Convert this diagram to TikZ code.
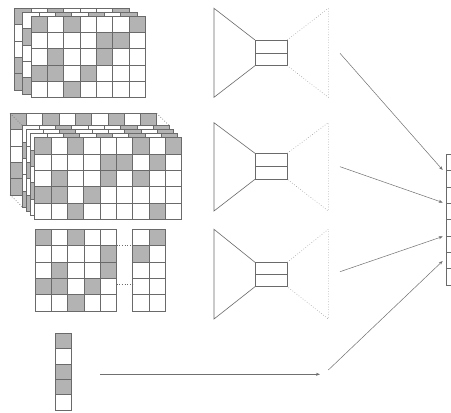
\documentclass[tikz,border=0pt]{standalone}
\usetikzlibrary{arrows.meta}
\definecolor{cellgray}{HTML}{B3B3B3}
\definecolor{linegray}{HTML}{6A6A6A}
\definecolor{dotgray}{HTML}{9A9A9A}
\definecolor{arrgray}{HTML}{707070}
\def\cw{16.3}
\tikzset{
  gridline/.style={draw=linegray, line width=0.6pt},
  bowline/.style={draw=linegray, line width=0.6pt},
  bowdot/.style={draw=dotgray, line width=0.6pt, dotted},
  stackdot/.style={draw=linegray, line width=0.7pt, dotted},
  conn/.style={draw=arrgray, line width=0.5pt, -{Stealth[length=4pt,width=3pt]}},
}
\newcommand\cellgrid[5]{%
  \fill[white] (#1,#2) rectangle ++({(#3+1)*\cw},{(#4+1)*\cw});
  \foreach \ci/\ri in {#5} {\fill[cellgray] ({#1+\ci*\cw},{#2+\ri*\cw}) rectangle ++(\cw,\cw);}
  \foreach \ci in {0,...,#3} {\foreach \ri in {0,...,#4} {\draw[gridline] ({#1+\ci*\cw},{#2+\ri*\cw}) rectangle ++(\cw,\cw);}}
}
\newcommand\mybowtie[6]{%
  \coordinate (#1-lt) at (214,#2); \coordinate (#1-lb) at (214,#3);
  \coordinate (#1-rt) at (328.3,#2); \coordinate (#1-rb) at (328.3,#3);
  \coordinate (#1-bt) at (255,#4); \coordinate (#1-bb) at (255,#6);
  \coordinate (#1-ct) at (287.3,#4); \coordinate (#1-cb) at (287.3,#6);
  \coordinate (#1-ml) at (255,#5); \coordinate (#1-mr) at (287.3,#5);
  \draw[bowline] (#1-bt) -- (#1-lt) -- (#1-lb) -- (#1-bb);
  \draw[bowline] (#1-bt) rectangle (#1-cb);
  \draw[bowline] (#1-ml) -- (#1-mr);
  \draw[bowdot] (#1-ct) -- (#1-rt) -- (#1-rb) -- (#1-cb);
}
\begin{document}
\begin{tikzpicture}[x=1pt,y=-1pt]
\useasboundingbox (0,0) rectangle (451,413);
\clip (0,0) rectangle (451,413);
\fill[white] (0,0) rectangle (451,413);

% ---- stack 1 ----
\cellgrid{14.7}{8.3}{6}{4}{0/0,2/0,6/0,0/3,0/4,3/1,5/2}
\cellgrid{22.7}{12.3}{6}{4}{2/0,4/0,6/0,0/1,0/4,3/2}
\cellgrid{31}{16}{6}{4}{0/0,2/0,6/0,4/1,5/1,1/2,4/2,0/3,1/3,3/3,2/4}

% ---- stack 2 ----
\cellgrid{10}{113.3}{8}{4}{0/0,2/0,4/0,6/0,8/0,0/3,0/4}
\coordinate (s2b-tl) at (10,113.3);
\coordinate (s2b-tr) at ({10+9*\cw},113.3);
\coordinate (s2b-bl) at (10,{113.3+5*\cw});
\coordinate (s2f-tl) at (22.7,125.7);
\coordinate (s2f-tr) at ({22.7+9*\cw},125.7);
\coordinate (s2f-bl) at (22.7,{125.7+5*\cw});
\draw[stackdot] (s2b-tl) -- (s2f-tl);
\draw[stackdot] (s2b-tr) -- (s2f-tr);
\draw[stackdot] (s2b-bl) -- (s2f-bl);
\cellgrid{22.7}{125.7}{8}{4}{2/0,6/0,8/0,0/1,0/4}
\cellgrid{26.7}{129.7}{8}{4}{2/0,6/0,8/0,0/2,0/4}
\cellgrid{30.7}{133.7}{8}{4}{2/0,4/0,6/0,8/0,0/1,0/3}
\cellgrid{34.7}{137.7}{8}{4}{0/0,2/0,6/0,8/0,4/1,5/1,7/1,1/2,4/2,6/2,0/3,1/3,3/3,2/4,7/4}

% ---- group 3 ----
\cellgrid{35}{229.3}{4}{4}{0/0,2/0,4/1,1/2,4/2,0/3,1/3,3/3,2/4}
\cellgrid{132.7}{229.3}{1}{4}{1/0,0/1}
\coordinate (g3-d1l) at ({35+5*\cw},245); \coordinate (g3-d1r) at (132.7,245);
\coordinate (g3-d2l) at ({35+5*\cw},284); \coordinate (g3-d2r) at (132.7,284);
\draw[stackdot] (g3-d1l) -- (g3-d1r);
\draw[stackdot] (g3-d2l) -- (g3-d2r);

% ---- vector ----
\foreach \ri/\fc in {0/cellgray,1/white,2/cellgray,3/cellgray,4/white} {
  \filldraw[gridline, fill=\fc] (55,{333.3+\ri*15.34}) rectangle ++(16.7,15.34);
}

% ---- bowties ----
\mybowtie{b1}{8.3}{97.3}{40}{52.8}{65.7}
\mybowtie{b2}{122.7}{211}{153.3}{166.5}{179.3}
\mybowtie{b3}{229.3}{319}{262.3}{274.3}{286.7}

% ---- output column ----
\foreach \ri in {0,...,7} {
  \draw[gridline] (446,{154.3+\ri*16.34}) rectangle ++(20,16.34);
}

% ---- connectors ----
\coordinate (a1s) at (340,53.3);   \coordinate (a1e) at (442.7,170);
\coordinate (a2s) at (340,166.7);  \coordinate (a2e) at (442.7,202.5);
\coordinate (a3s) at (340,271.7);  \coordinate (a3e) at (442.7,236.5);
\coordinate (a4s) at (328.3,370);  \coordinate (a4e) at (442.7,261);
\coordinate (hs) at (100,374.3);   \coordinate (he) at (320,374.3);
\draw[conn] (a1s) -- (a1e);
\draw[conn] (a2s) -- (a2e);
\draw[conn] (a3s) -- (a3e);
\draw[conn] (a4s) -- (a4e);
\draw[conn] (hs) -- (he);
\end{tikzpicture}
\end{document}
